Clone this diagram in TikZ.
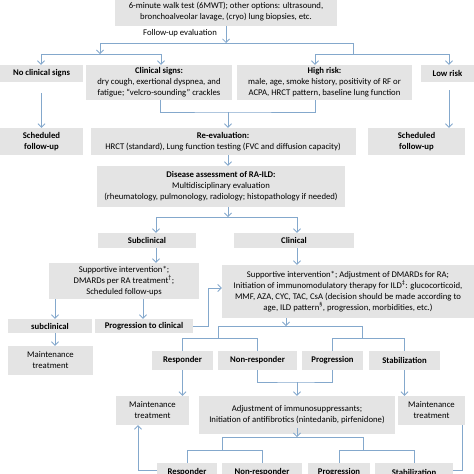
\documentclass[tikz,border=0pt]{standalone}
\usepackage{fontspec}
\setmainfont{Carlito}
\usetikzlibrary{arrows.meta, positioning}

\definecolor{boxgray}{RGB}{228,228,228}
\definecolor{linec}{RGB}{132,168,204}
\newcommand{\figfont}{\fontsize{8.7}{11}\selectfont}

\begin{document}
\begin{tikzpicture}[x=1pt, y=-1pt, >={Straight Barb[length=3.5pt,width=7pt]},
  box/.style={fill=boxgray, inner sep=1pt, align=center, font=\figfont},
  bbox/.style={box, font=\figfont\bfseries},
  line/.style={draw=linec, line width=0.8pt}]
\useasboundingbox (0,0) rectangle (474,474);
\clip (0,0) rectangle (474,474);

\node [box, minimum width=222, minimum height=28] (top) at (226,11.5) {6-minute walk test (6MWT); other options: ultrasound,\\ bronchoalveolar lavage, (cryo) lung biopsies, etc.};
\node [font=\figfont, inner sep=0pt] (follow) at (180,33) {Follow-up evaluation};

\node [bbox, minimum width=83, minimum height=17] (ncs) at (41.5,73.5) {No clinical signs};
\node [box, minimum width=146, minimum height=35] (clin) at (159,82.5) {\textbf{Clinical signs:}\\ dry cough, exertional dyspnea, and\\ fatigue; “velcro-sounding” crackles};
\node [box, minimum width=175, minimum height=35] (risk) at (324.5,82.5) {\textbf{High risk:}\\ male, age, smoke history, positivity of RF or\\ ACPA, HRCT pattern, baseline lung function};
\node [bbox, minimum width=53, minimum height=17] (low) at (447.5,73.5) {Low risk};

\node [bbox, minimum width=83, minimum height=27] (sfl) at (41.5,141.5) {Scheduled\\ follow-up};
\node [box, minimum width=265, minimum height=27] (reev) at (223,141.5) {\textbf{Re-evaluation:}\\ HRCT (standard), Lung function testing (FVC and diffusion capacity)};
\node [bbox, minimum width=97, minimum height=27] (sfr) at (416.5,141.5) {Scheduled\\ follow-up};

\node [box, minimum width=248, minimum height=41] (dis) at (221,186.5) {\textbf{Disease assessment of RA-ILD:}\\ Multidisciplinary evaluation\\ (rheumatology, pulmonology, radiology; histopathology if needed)};

\node [bbox, minimum width=98, minimum height=15] (subc) at (147,240.5) {Subclinical};
\node [bbox, minimum width=120, minimum height=15] (clinr) at (294,240.5) {Clinical};

\node [box, minimum width=150, minimum height=36] (suppl) at (124,281) {Supportive intervention*;\\ DMARDs per RA treatment\textsuperscript{†};\\ Scheduled follow-ups};
\node [box, minimum width=252, minimum height=53] (suppr) at (348,291.5) {Supportive intervention*; Adjustment of DMARDs for RA;\\ Initiation of immunomodulatory therapy for ILD\textsuperscript{‡}: glucocorticoid,\\ MMF, AZA, CYC, TAC, CsA (decision should be made according to\\ age, ILD pattern\textsuperscript{§}, progression, morbidities, etc.)};

\node [bbox, minimum width=84, minimum height=14] (subs) at (50,326) {subclinical};
\node [bbox, minimum width=98, minimum height=14] (prog) at (144,326) {Progression to clinical};
\node [box, minimum width=85, minimum height=29] (maint1) at (50.5,360.5) {Maintenance\\ treatment};

\node [bbox, minimum width=61, minimum height=19] (resp1) at (182.5,360.5) {Responder};
\node [bbox, minimum width=79, minimum height=19] (nonr1) at (257.5,360.5) {Non-responder};
\node [bbox, minimum width=61, minimum height=19] (progr1) at (332.5,360.5) {Progression};
\node [bbox, minimum width=71, minimum height=19] (stab1) at (404.5,360.5) {Stabilization};

\node [box, minimum width=73, minimum height=29] (maint2) at (152.5,410.5) {Maintenance\\ treatment};
\node [box, minimum width=196, minimum height=38] (adj) at (297,415) {Adjustment of immunosuppressants;\\ Initiation of antifibrotics (nintedanib, pirfenidone)};
\node [box, minimum width=67, minimum height=29] (maint3) at (431.5,410.5) {Maintenance\\ treatment};

\node [bbox, minimum width=60, minimum height=19] (resp2) at (187,472.5) {Responder};
\node [bbox, minimum width=80, minimum height=19] (nonr2) at (262,472.5) {Non-responder};
\node [bbox, minimum width=62, minimum height=19] (progr2) at (339,472.5) {Progression};
\node [bbox, minimum width=78, minimum height=19] (stab2) at (414,472.5) {Stabilization};

% junctions
\coordinate (j1) at (226,43);
\coordinate (jl1) at (100,43);
\coordinate (jr1) at (353,43);
\coordinate (jl2) at (100,54);
\coordinate (jr2) at (353,54);
\coordinate (j3) at (228,112);
\coordinate (j4) at (228,217);
\coordinate (c1) at (156,217);
\coordinate (c2) at (297,217);
\coordinate (a1) at (55,0);
\coordinate (a2) at (143,0);
\coordinate (k1) at (208,288);
\coordinate (j5) at (286,326);
\coordinate (j5l) at (218,326);
\coordinate (j5r) at (362,326);
\coordinate (j6l) at (218,338);
\coordinate (j6r) at (362,338);
\coordinate (j7) at (297,382);
\coordinate (j8) at (297,437);
\coordinate (j8l) at (222,437);
\coordinate (j8r) at (363,437);
\coordinate (j9l) at (222,450);
\coordinate (j9r) at (363,450);
\coordinate (k2) at (138,0);
\coordinate (k3) at (462,0);

\draw [line, ->] (top) -- (j1);
\draw [line] (jl1) -- (jr1);
\draw [line, ->] (jl1) -- (jl2);
\draw [line, ->] (jl2) -| ([xshift=-0.5pt]ncs.north);
\draw [line, ->] (jl2) -| ([xshift=2pt]clin.north);
\draw [line] (jr1) -- (jr2);
\draw [line, ->] (jr2) -| ([xshift=-9.5pt]risk.north);
\draw [line, ->] (jr2) -| ([xshift=1.5pt]low.north);

\draw [line, ->, shorten <=11pt] (ncs) -- (sfl);
\draw [line, ->, shorten <=8pt] ([xshift=1.5pt]low.south) -- ([xshift=1.5pt]low.south |- sfr.north);
\draw [line] ([xshift=1pt]clin.south) |- (j3) -| ([xshift=-9.5pt]risk.south);
\draw [line, ->] (j3) -- (j3 |- reev.north);
\draw [line, ->] (reev.south -| j3) -- (dis.north -| j3);

\draw [line, ->] (dis.south -| j4) -- (j4);
\draw [line] (c1) -- (c2);
\draw [line, ->] (c1) -- (c1 |- subc.north);
\draw [line, ->] (c2) -- (c2 |- clinr.north);
\draw [line, ->] (c1 |- subc.south) -- (c1 |- suppl.north);
\draw [line, ->] (c2 |- clinr.south) -- (c2 |- suppr.north);

\draw [line, ->] (a1 |- suppl.south) -- (a1 |- subs.north);
\draw [line, ->] (a2 |- suppl.south) -- (a2 |- prog.north);
\draw [line, ->] (prog.east) -| (k1) -- (k1 -| suppr.west);
\draw [line, ->] (a1 |- subs.south) -- (a1 |- maint1.north);

\draw [line, ->] (j5 |- suppr.south) -- (j5);
\draw [line] (j5l) -- (j5r);
\draw [line] (j5l) -- (j6l);
\draw [line] (j5r) -- (j6r);
\draw [line] (j6l) -| (resp1);
\draw [line] (j6l) -| (nonr1);
\draw [line] (j6r) -| (progr1);
\draw [line] (j6r) -| (stab1);

\draw [line, ->] (resp1) -- (resp1 |- maint2.north);
\draw [line] (nonr1) |- (j7) -| (progr1);
\draw [line, ->] (j7) -- (j7 |- adj.north);
\draw [line, ->] (stab1) -- (stab1 |- maint3.north);

\draw [line, ->] ([yshift=6pt]adj.south) -- (j8);
\draw [line] (j8l) -- (j8r);
\draw [line] (j8l) -- (j9l);
\draw [line] (j8r) -- (j9r);
\draw [line] (j9l) -| (resp2);
\draw [line] (j9l) -| (nonr2);
\draw [line] (j9r) -| (progr2);
\draw [line] (j9r) -| (stab2);

\draw [line, ->] ([yshift=2.5pt]resp2.west) -| (k2 |- maint2.south);
\draw [line] (k3 |- maint3.south) |- ([yshift=2.5pt]stab2.east);
\end{tikzpicture}
\end{document}
